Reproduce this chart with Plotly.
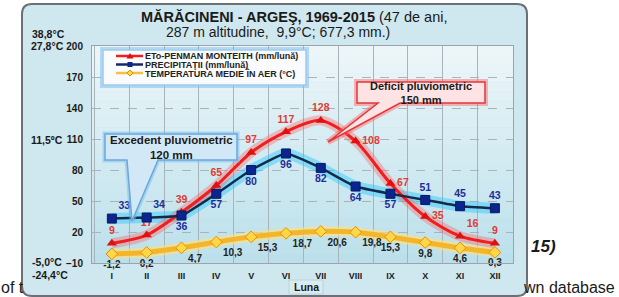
import plotly.graph_objects as go

months = ["I", "II", "III", "IV", "V", "VI", "VII", "VIII", "IX", "X", "XI", "XII"]
eto = [9, 17, 39, 65, 97, 117, 128, 108, 67, 35, 16, 9]
precip = [33, 34, 36, 57, 80, 96, 82, 64, 57, 51, 45, 43]
temp = [-1.2, 0.2, 4.7, 10.3, 15.3, 18.7, 20.6, 19.8, 15.3, 9.8, 4.6, 0.3]
temp_labels = ["-1,2", "0,2", "4,7", "10,3", "15,3", "18,7", "20,6", "19,8", "15,3", "9,8", "4,6", "0,3"]
y_ticks = [-10, 20, 50, 80, 110, 140, 170, 200]
series_names = ["ETo-PENMAN MONTEITH (mm/lună)", "PRECIPITAŢII (mm/lună)", "TEMPERATURA MEDIE ÎN AER (°C)"]

FONT = "Liberation Sans, Arial, sans-serif"
W, H = 619, 297
L, R, T, B = 92, 513, 46, 263


def px(x):
    return (x - L) / (R - L)


def py(y):
    return (B - y) / (B - T)


def P(x, y):
    return f"{px(x):.5f},{py(y):.5f}"


eto_pos = ["top center", "top center", "top center", "top center", "top center", "top center",
           "top center", "middle right", "middle right", "middle right", "top right", "top center"]
pre_pos = ["top right", "top right", "bottom center", "bottom center", "bottom center", "bottom center",
           "bottom center", "bottom center", "bottom center", "top center", "top center", "top center"]
tmp_pos = ["bottom center", "bottom center", "bottom right", "bottom right", "bottom right", "bottom right",
           "bottom right", "bottom right", "bottom center", "bottom center", "bottom center", "bottom center"]

fig = go.Figure()

# glows
fig.add_trace(go.Scatter(x=months, y=temp, mode="lines", line=dict(color="rgba(255,225,120,0.6)", width=10, shape="spline", smoothing=0.6),
                         showlegend=False, hoverinfo="skip"))
fig.add_trace(go.Scatter(x=months, y=precip, mode="lines", line=dict(color="rgba(40,200,255,0.45)", width=11, shape="spline", smoothing=0.4),
                         showlegend=False, hoverinfo="skip"))
fig.add_trace(go.Scatter(x=months, y=eto, mode="lines", line=dict(color="rgba(255,90,90,0.35)", width=10, shape="spline", smoothing=0.8),
                         showlegend=False, hoverinfo="skip"))

fig.add_trace(go.Scatter(
    x=months, y=eto, name=series_names[0], mode="lines+markers+text", showlegend=False, cliponaxis=False,
    line=dict(color="#f21d1d", width=3, shape="spline", smoothing=0.8),
    marker=dict(symbol="triangle-up", size=9, color="#e01010"),
    text=[str(v) for v in eto], textposition=eto_pos,
    textfont=dict(family=FONT, size=10.5, color="#e23a33", weight="bold"), hoverinfo="skip"))
fig.add_trace(go.Scatter(
    x=months, y=precip, name=series_names[1], mode="lines+markers+text", showlegend=False, cliponaxis=False,
    line=dict(color="#142a4a", width=2.5, shape="spline", smoothing=0.4),
    marker=dict(symbol="square", size=9, color="#0c2490", line=dict(color="#0a1a60", width=1)),
    text=[str(v) for v in precip], textposition=pre_pos,
    textfont=dict(family=FONT, size=10.5, color="#1b2f9a", weight="bold"), hoverinfo="skip"))
fig.add_trace(go.Scatter(
    x=months, y=temp, name=series_names[2], mode="lines+markers+text", showlegend=False, cliponaxis=False,
    line=dict(color="#f5b52a", width=5, shape="spline", smoothing=0.6),
    marker=dict(symbol="diamond", size=9, color="#ffd84a", line=dict(color="#f08a00", width=1)),
    text=temp_labels, textposition=tmp_pos,
    textfont=dict(family=FONT, size=10, color="#222222", weight="bold"), hoverinfo="skip"))

shapes = []
# card
cx0, cx1, cy0, cy1, r = 22, 527, 4, 296, 10
card = (f"M {P(cx0 + r, cy0)} L {P(cx1 - r, cy0)} Q {P(cx1, cy0)} {P(cx1, cy0 + r)} "
        f"L {P(cx1, cy1 - r)} Q {P(cx1, cy1)} {P(cx1 - r, cy1)} L {P(cx0 + r, cy1)} "
        f"Q {P(cx0, cy1)} {P(cx0, cy1 - r)} L {P(cx0, cy0 + r)} Q {P(cx0, cy0)} {P(cx0 + r, cy0)} Z")
shapes.append(dict(type="path", path=card, xref="paper", yref="paper", fillcolor="#cfe7ee",
                   line=dict(color="#6a7075", width=2), layer="below"))
# plot-area gradient
n = 24
c0 = (236, 246, 249)
c1 = (188, 224, 235)
for i in range(n):
    f = i / (n - 1)
    col = tuple(round(c0[k] + (c1[k] - c0[k]) * f) for k in range(3))
    shapes.append(dict(type="rect", xref="paper", yref="paper", x0=0, x1=1,
                       y0=1 - (i + 1) / n, y1=1 - i / n,
                       fillcolor=f"rgb{col}", line=dict(width=0), layer="below"))
# luna box
shapes.append(dict(type="rect", xref="paper", yref="paper", x0=px(289), x1=px(323), y0=py(294), y1=py(280),
                   fillcolor="#d9ecf2", line=dict(color="#b8d4de", width=1), layer="below"))

# legend box (custom)
shapes.append(dict(type="rect", xref="paper", yref="paper", x0=px(103), x1=px(306), y0=py(85), y1=py(50),
                   fillcolor="rgba(255,255,255,0)", line=dict(color="rgba(110,180,235,0.45)", width=6), layer="above"))
shapes.append(dict(type="rect", xref="paper", yref="paper", x0=px(103), x1=px(306), y0=py(85), y1=py(50),
                   fillcolor="rgba(250,251,252,0.97)", line=dict(color="#9ccbea", width=1.5), layer="above"))
rows = [56, 64.5, 73]
line_cols = ["#f21d1d", "#142a60", "#f5c040"]
for yy, lc in zip(rows, line_cols):
    shapes.append(dict(type="line", xref="paper", yref="paper", x0=px(116), x1=px(143), y0=py(yy), y1=py(yy),
                       line=dict(color=lc, width=2.5), layer="above"))
# legend glyphs
shapes.append(dict(type="path", xref="paper", yref="paper", layer="above",
                   path=f"M {P(126.5, rows[0] + 2.5)} L {P(133.5, rows[0] + 2.5)} L {P(130, rows[0] - 3)} Z",
                   fillcolor="#e01010", line=dict(width=0)))
shapes.append(dict(type="rect", xref="paper", yref="paper", layer="above",
                   x0=px(127.5), x1=px(132.5), y0=py(rows[1] + 2.5), y1=py(rows[1] - 2.5),
                   fillcolor="#0c2490", line=dict(width=0)))
shapes.append(dict(type="path", xref="paper", yref="paper", layer="above",
                   path=f"M {P(130, rows[2] - 3)} L {P(133, rows[2])} L {P(130, rows[2] + 3)} L {P(127, rows[2])} Z",
                   fillcolor="#ffd84a", line=dict(color="#f08a00", width=1)))

# excedent callout
ex = [(105, 134), (237, 134), (237, 160), (158, 160), (132, 221), (127, 160), (105, 160)]
path = "M " + " L ".join(P(*p) for p in ex) + " Z"
shapes.append(dict(type="path", path=path, xref="paper", yref="paper", fillcolor="rgba(120,190,240,0.35)",
                   line=dict(color="rgba(120,190,240,0.5)", width=5), layer="above"))
shapes.append(dict(type="path", path=path, xref="paper", yref="paper", fillcolor="#d3e8f6",
                   line=dict(color="#6aa8dc", width=1.5), layer="above"))
# deficit callout
de = [(357, 82), (485, 82), (485, 103), (400, 103), (328, 142), (378, 103), (357, 103)]
path = "M " + " L ".join(P(*p) for p in de) + " Z"
shapes.append(dict(type="path", path=path, xref="paper", yref="paper", fillcolor="rgba(255,120,120,0.35)",
                   line=dict(color="rgba(255,100,100,0.45)", width=6), layer="above"))
shapes.append(dict(type="path", path=path, xref="paper", yref="paper", fillcolor="#fde3e3",
                   line=dict(color="#e0383a", width=1.5), layer="above"))

ann = []


def A(text, x, y, size, xanchor="left", color="#1a1a1a"):
    ann.append(dict(text=text, x=px(x), y=py(y), xref="paper", yref="paper", xanchor=xanchor, yanchor="middle",
                    showarrow=False, borderpad=0, font=dict(family=FONT, size=size, color=color)))


A("<b>MĂRĂCINENI - ARGEŞ, 1969-2015</b> (47 de ani,", 294, 17, 14.5, xanchor="center")
A("287 m altitudine,  9,9°C; 677,3 mm.)", 278, 32, 14, xanchor="center")
A("<b>38,8°C</b>", 31, 34, 10.5)
A("<b>27,8°C</b>", 30, 46, 10.5)
A("<b>11,5ºC</b>", 30, 140, 10.5)
A("<b>-5,0°C</b>", 31, 262, 10.5)
A("<b>-24,4°C</b>", 31, 275, 10.5)
for yy, name in zip(rows, series_names):
    A("<b>" + name + "</b>", 144, yy, 9, color="#222")
A("<b>Excedent pluviometric<br>120 mm</b>", 171, 147, 11.5, xanchor="center")
A("<b>Deficit pluviometric<br>150 mm</b>", 421, 92.5, 11, xanchor="center")
A("<b>Luna</b>", 306, 287, 10.5, xanchor="center")
A("of t", 0, 287, 16)
A("<b><i>15)</i></b>", 530, 246, 17)
A("wn database", 522, 287, 16)

fig.update_layout(
    width=W, height=H,
    margin=dict(l=L, r=W - R, t=T, b=H - B),
    paper_bgcolor="white", plot_bgcolor="rgba(0,0,0,0)",
    shapes=shapes, annotations=ann,
    showlegend=False,
    xaxis=dict(type="category", categoryorder="array", categoryarray=months,
               range=[-0.57, 11.52], tickson="boundaries", showgrid=True, gridcolor="#a9b4ba", gridwidth=1,
               ticks="", showline=True, linecolor="#9aa4aa", linewidth=1, mirror=True, ticklabelstandoff=4,
               tickfont=dict(family=FONT, size=9, color="#1a1a1a", weight="bold"), zeroline=False),
    yaxis=dict(range=[-10, 200], tickvals=y_ticks, showgrid=True, gridcolor="#a9b4ba", griddash="dash",
               gridwidth=1, ticks="", showline=True, linecolor="#9aa4aa", linewidth=1, mirror=True,
               tickfont=dict(family=FONT, size=10, color="#1a1a1a", weight="bold"), zeroline=False,
               ticklabelstandoff=6),
)

fig.write_html("out.html")
